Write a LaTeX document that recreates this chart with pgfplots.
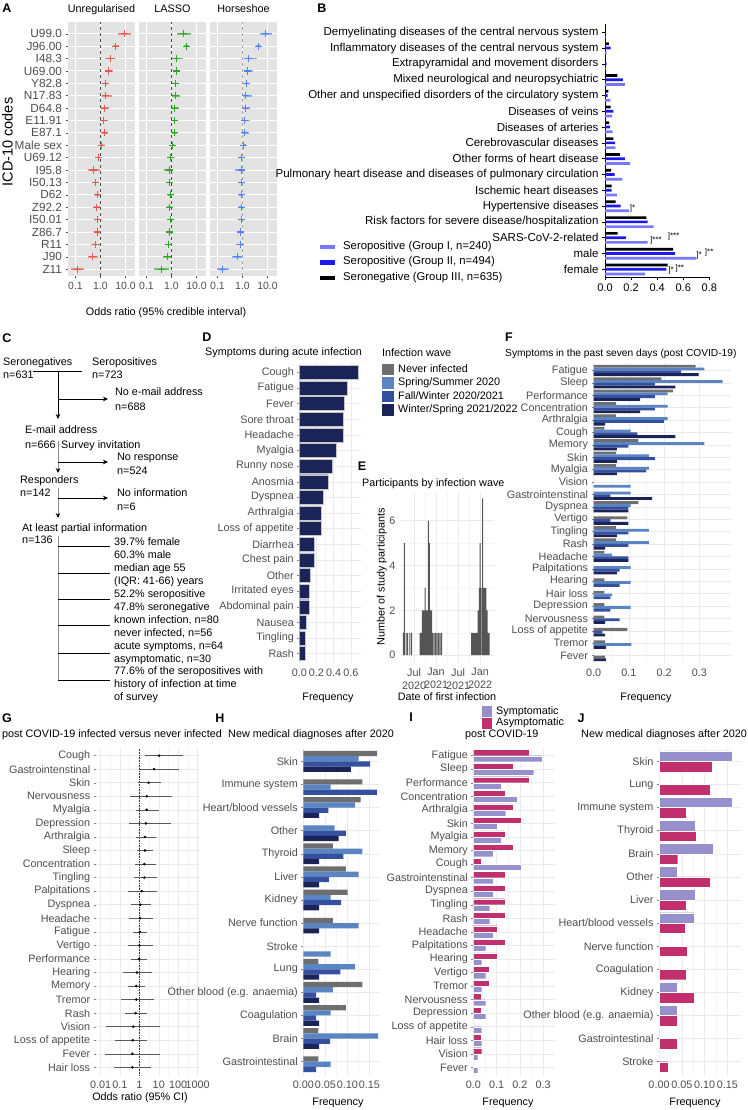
\documentclass[border=0pt]{standalone}
\usepackage{fontspec}
\setmainfont{Liberation Sans}
\usepackage{pgfplots}
\pgfplotsset{compat=1.18}
\usetikzlibrary{arrows.meta}

\definecolor{tickc}{HTML}{4D4D4D}
\definecolor{gridc}{HTML}{EBEBEB}
\definecolor{gridm}{HTML}{F4F4F4}
\definecolor{panelA}{HTML}{E3E3E3}
\definecolor{redA}{HTML}{E5584C}
\definecolor{greenA}{HTML}{2FA52A}
\definecolor{blueA}{HTML}{4F84F2}
\definecolor{grpI}{HTML}{7878F8}
\definecolor{grpII}{HTML}{1A1AF0}
\definecolor{wNever}{HTML}{6E6E6E}
\definecolor{wSpring}{HTML}{5A84C2}
\definecolor{wFall}{HTML}{34509F}
\definecolor{wWinter}{HTML}{1B2457}
\definecolor{symp}{HTML}{9691CC}
\definecolor{asym}{HTML}{C12F6D}
\definecolor{histc}{HTML}{555555}
\definecolor{flowg}{HTML}{8A8A8A}

\newcommand{\fs}{\fontsize{10.8}{12.9}\selectfont}
\newcommand{\fsA}{\fontsize{11.8}{14}\selectfont}
\newcommand{\fsT}{\fontsize{10.5}{12.6}\selectfont}
\newcommand{\fsF}{\fontsize{10.2}{12.2}\selectfont}
\newcommand{\fsB}{\fontsize{11.5}{13.8}\selectfont}
\newcommand{\fsBt}{\fontsize{11}{13}\selectfont}
\newcommand{\fsBl}{\fontsize{11.3}{13.5}\selectfont}
\newcommand{\fsS}{\fontsize{8}{9.5}\selectfont}
\newcommand{\fl}{\fontsize{12.5}{15}\selectfont\bfseries}

\pgfplotsset{
  /pgf/number format/assume math mode=true,
  facetA/.style={scale only axis, anchor=north west, width=67pt, height=254pt,
    xmin=-1.3, xmax=1.38, ymin=-20.55, ymax=-0.05,
    axis background/.style={fill=panelA},
    axis line style={draw=none},
    xtick={-1,0,1}, xticklabels={0.1,1.0,10.0},
    ytick={-1,-2,...,-20},
    grid=major, major grid style={draw=white, line width=0.9pt},
    tick pos=left, tick align=outside, major tick length=2.5pt,
    tick style={draw=tickc, line width=0.5pt},
    xticklabel style={font=\fsT, text=tickc},
    yticklabel style={font=\fsA, text=tickc},
  },
  gm/.style={scale only axis, anchor=north west,
    axis line style={draw=none},
    tick pos=left, tick align=outside, major tick length=2pt,
    xtick style={draw=none}, ytick style={draw=tickc!70, line width=0.4pt},
    minor tick style={draw=none},
    xmajorgrids, xminorgrids, ymajorgrids,
    major grid style={draw=gridc, line width=0.5pt},
    minor grid style={draw=gridm, line width=0.4pt},
    ticklabel style={font=\fs, text=tickc},
    ymax=-0.4,
  },
  fplot/.style={only marks, mark=+, mark size=3.6pt, color=#1, mark options={draw=#1, line width=1.2pt},
    error bars/.cd, x dir=both, x explicit, error mark=none,
    error bar style={draw=#1!70, line width=1.6pt}},
}

\begin{document}
\begin{tikzpicture}
\useasboundingbox (0pt,0pt) rectangle (747pt,-1110pt);

%================ A ==================
\begin{axis}[facetA, at={(68pt,-22pt)},
  yticklabels={U99.0,J96.00,I48.3,U69.00,Y82.8,N17.83,D64.8,E11.91,E87.1,Male sex,U69.12,I95.8,I50.13,D62,Z92.2,I50.01,Z86.7,R11,J90,Z11}]
\addplot[dashed, draw=black!70, line width=0.5pt] coordinates {(0,-20.55) (0,-0.05)};
\addplot[fplot=redA]
  table[x=c, y expr=-\coordindex-1, x error minus=em, x error plus=ep] {
c em ep
0.97 0.27 0.23
0.61 0.10 0.11
0.40 0.23 0.21
0.32 0.15 0.19
0.21 0.12 0.13
0.21 0.17 0.23
0.17 0.15 0.17
0.13 0.12 0.15
0.17 0.12 0.13
0.03 0.05 0.05
-0.08 0.12 0.12
-0.27 0.23 0.24
-0.19 0.15 0.13
-0.13 0.11 0.11
-0.16 0.11 0.12
-0.12 0.13 0.16
-0.13 0.09 0.09
-0.20 0.19 0.16
-0.32 0.20 0.21
-0.93 0.25 0.27
};
\end{axis}

\begin{axis}[facetA, at={(139pt,-22pt)}, yticklabels={}, ytick style={draw=none}]
\addplot[dashed, draw=black!70, line width=0.5pt] coordinates {(0,-20.55) (0,-0.05)};
\addplot[fplot=greenA]
  table[x=c, y expr=-\coordindex-1, x error minus=em, x error plus=ep] {
c em ep
0.48 0.27 0.29
0.59 0.11 0.11
0.19 0.17 0.27
0.21 0.13 0.13
0.16 0.11 0.12
0.16 0.13 0.16
0.13 0.11 0.15
0.12 0.09 0.12
0.11 0.09 0.11
0.05 0.05 0.05
-0.04 0.07 0.07
-0.08 0.21 0.12
-0.07 0.12 0.09
-0.05 0.09 0.08
-0.08 0.09 0.09
-0.05 0.13 0.09
-0.08 0.09 0.08
-0.11 0.16 0.12
-0.16 0.19 0.13
-0.40 0.29 0.29
};
\end{axis}

\begin{axis}[facetA, at={(210pt,-22pt)}, yticklabels={}, ytick style={draw=none}]
\addplot[dashed, draw=black!35, line width=1.3pt] coordinates {(0,-20.55) (0,-0.05)};
\addplot[fplot=blueA]
  table[x=c, y expr=-\coordindex-1, x error minus=em, x error plus=ep] {
c em ep
0.91 0.23 0.27
0.64 0.10 0.10
0.24 0.20 0.33
0.20 0.13 0.21
0.17 0.11 0.13
0.11 0.09 0.27
0.11 0.09 0.20
0.07 0.08 0.21
0.07 0.08 0.17
0.05 0.05 0.07
-0.05 0.07 0.08
-0.03 0.27 0.07
-0.03 0.16 0.05
-0.03 0.11 0.05
-0.04 0.11 0.07
-0.05 0.15 0.08
-0.07 0.09 0.08
-0.08 0.19 0.09
-0.19 0.23 0.19
-0.80 0.23 0.24
};
\end{axis}

%================ B ==================
\begin{axis}[scale only axis, anchor=north west, at={(605pt,-24pt)}, width=104.3pt, height=253pt,
  xmin=0, xmax=0.8, ymin=-16.49, ymax=-0.475,
  axis x line*=bottom, axis y line*=left, axis line style={-, line width=0.6pt},
  xtick={0,0.2,0.4,0.6,0.8}, xticklabels={0.0,0.2,0.4,0.6,0.8},
  ytick={-1,-2,...,-16},
  yticklabels={Demyelinating diseases of the central nervous system,Inflammatory diseases of the central nervous system,Extrapyramidal and movement disorders,Mixed neurological and neuropsychiatric,Other and unspecified disorders of the circulatory system,Diseases of veins,Diseases of arteries,Cerebrovascular diseases,Other forms of heart disease,Pulmonary heart disease and diseases of pulmonary circulation,Ischemic heart diseases,Hypertensive diseases,Risk factors for severe disease/hospitalization,SARS-CoV-2-related,male,female},
  tick align=outside, major tick length=3pt, tick style={line width=0.6pt, black},
  yticklabel style={font=\fsB}, xticklabel style={font=\fsBt}, clip=false]
\addplot[xbar, bar width=0.17, bar shift=0pt, fill=black, draw=none]
  table[x=v, y expr=-\coordindex-1+0.27] {
v
0.004
0.030
0.004
0.095
0.026
0.043
0.031
0.064
0.115
0.046
0.051
0.082
0.317
0.097
0.522
0.481
};
\addplot[xbar, bar width=0.17, bar shift=0pt, fill=grpII, draw=none]
  table[x=v, y expr=-\coordindex-1] {
v
0.008
0.043
0.013
0.138
0.020
0.064
0.038
0.077
0.153
0.074
0.051
0.120
0.327
0.161
0.537
0.471
};
\addplot[xbar, bar width=0.17, bar shift=0pt, fill=grpI, draw=none]
  table[x=v, y expr=-\coordindex-1-0.3] {
v
0.004
0.013
0.004
0.153
0.041
0.054
0.059
0.079
0.192
0.133
0.092
0.184
0.373
0.327
0.698
0.307
};
\node[anchor=west, font=\fsS, inner sep=0pt] at (axis cs:0.19,-12.15) {]*};
\node[anchor=west, font=\fsS, inner sep=0pt] at (axis cs:0.345,-14.2) {]***};
\node[anchor=west, font=\fsS, inner sep=0pt] at (axis cs:0.48,-13.95) {]***};
\node[anchor=west, font=\fsS, inner sep=0pt] at (axis cs:0.70,-15.1) {]*};
\node[anchor=west, font=\fsS, inner sep=0pt] at (axis cs:0.765,-14.95) {]**};
\node[anchor=west, font=\fsS, inner sep=0pt] at (axis cs:0.485,-16.1) {]*};
\node[anchor=west, font=\fsS, inner sep=0pt] at (axis cs:0.54,-15.95) {]**};
\end{axis}

%================ D ==================
\begin{axis}[gm, at={(299.3pt,-363pt)}, width=61.9pt, height=300pt,
  xmin=0, xmax=0.72, ymin=-19.6,
  xtick={0,0.2,0.4,0.6}, xticklabels={0.0,0.2,0.4,0.6}, minor x tick num=1,
  ytick={-1,-2,...,-19},
  yticklabels={Cough,Fatigue,Fever,Sore throat,Headache,Myalgia,Runny nose,Anosmia,Dyspnea,Arthralgia,Loss of appetite,Diarrhea,Chest pain,Other,Irritated eyes,Abdominal pain,Nausea,Tingling,Rash}]
\addplot[xbar, bar width=0.9, bar shift=0pt, fill=wWinter, draw=gray!45, line width=0.4pt]
  table[x=v, y expr=-\coordindex-1] {
v
0.680
0.554
0.523
0.508
0.508
0.426
0.380
0.333
0.283
0.252
0.252
0.174
0.174
0.124
0.112
0.112
0.081
0.066
0.066
};
\end{axis}

%================ E ==================
\begin{axis}[gm, at={(401pt,-491.6pt)}, width=93pt, height=171.4pt,
  xmin=2.45, xmax=27.8, ymin=-0.35, ymax=7.3,
  ytick style={draw=none},
  xtick={6,12,18,24}, xticklabels={{Jul\\2020},{Jan\\2021},{Jul\\2021},{Jan\\2022}},
  xticklabel style={align=center, font=\fs, text=tickc},
  ytick={0,2,4,6}, minor x tick num=1, minor y tick num=1, yminorgrids]
\addplot[ybar, bar width=0.27, bar shift=0pt, fill=histc, draw=none] table[x=m, y=h] {
m h
3.08 1
3.35 5
3.82 1
4.28 1
4.90 1
5.37 1
7.64 1
7.95 1
8.25 2
8.55 2
8.85 2
9.00 3
9.30 2
9.60 2
9.90 6
10.17 5
10.50 2
10.80 2
11.10 1
11.50 1
11.90 1
12.30 1
12.70 1
13.10 1
13.55 1
21.70 1
22.00 1
22.30 1
22.60 1
22.90 1
23.20 1
23.50 2
23.80 3
24.00 5
24.30 3
24.70 7
25.00 3
25.30 3
25.60 3
25.90 2
26.20 1
26.50 1
};
\end{axis}

%================ F ==================
\begin{axis}[gm, at={(593.5pt,-363pt)}, width=137.7pt, height=300pt,
  xmin=0, xmax=0.39, ymin=-24.6,
  xtick={0,0.1,0.2,0.3}, xticklabels={0.0,0.1,0.2,0.3}, minor x tick num=1,
  ytick={-1,-2,...,-24},
  yticklabels={Fatigue,Sleep,Performance,Concentration,Arthralgia,Cough,Memory,Skin,Myalgia,Vision,Gastrointenstinal,Dyspnea,Vertigo,Tingling,Rash,Headache,Palpitations,Hearing,Hair loss,Depression,Nervousness,Loss of appetite,Tremor,Fever}]
\addplot[xbar, bar width=0.225, bar shift=0pt, fill=wNever, draw=none]
  table[x=v, y expr=-\thisrow{k}-(\thisrow{s}-2.5)*0.225] {
k s v
1 1 0.289
2 1 0.192
3 1 0.225
4 1 0.064
5 1 0.064
6 1 0.031
7 1 0.127
8 1 0.064
9 1 0.064
12 1 0.127
13 2 0.096
14 1 0.064
15 1 0.064
16 1 0.031
18 2 0.031
19 2 0.031
20 2 0.031
21 2 0.031
22 2 0.096
23 2 0.033
24 3 0.033
};
\addplot[xbar, bar width=0.225, bar shift=0pt, fill=wSpring, draw=none]
  table[x=v, y expr=-\thisrow{k}-(\thisrow{s}-2.5)*0.225] {
k s v
1 2 0.314
2 2 0.366
3 2 0.210
4 2 0.210
5 2 0.210
6 2 0.105
7 2 0.314
8 2 0.157
9 2 0.157
10 4 0.105
11 2 0.105
12 2 0.105
14 2 0.157
15 2 0.157
16 2 0.053
17 2 0.105
18 3 0.105
19 3 0.053
20 3 0.105
23 3 0.107
};
\addplot[xbar, bar width=0.225, bar shift=0pt, fill=wFall, draw=none]
  table[x=v, y expr=-\thisrow{k}-(\thisrow{s}-2.5)*0.225] {
k s v
1 3 0.248
2 3 0.174
3 3 0.174
4 3 0.174
5 3 0.199
6 3 0.124
7 3 0.099
8 3 0.174
9 3 0.149
11 3 0.048
12 3 0.099
13 3 0.048
14 3 0.099
15 3 0.099
16 3 0.099
17 3 0.074
18 4 0.074
19 4 0.048
20 4 0.048
21 3 0.074
22 3 0.025
};
\addplot[xbar, bar width=0.225, bar shift=0pt, fill=wWinter, draw=none]
  table[x=v, y expr=-\thisrow{k}-(\thisrow{s}-2.5)*0.225] {
k s v
1 4 0.298
2 4 0.232
3 4 0.132
4 4 0.132
5 4 0.033
6 4 0.232
7 4 0.066
8 4 0.066
9 4 0.066
11 4 0.166
12 4 0.099
13 4 0.099
14 4 0.066
15 4 0.033
16 4 0.099
17 4 0.066
21 4 0.033
22 4 0.033
23 4 0.035
24 4 0.035
};
\end{axis}

%================ G ==================
\begin{axis}[gm, at={(95.7pt,-747.5pt)}, width=103.8pt, height=328pt,
  xmin=-2.25, xmax=3.1, ymin=-24.6,
  xtick={-2,-1,0,1,2,3}, xticklabels={0.01,0.1,1,10,100,1000}, minor x tick num=1,
  ytick={-1,-2,...,-24},
  yticklabels={Cough,Gastrointenstinal,Skin,Nervousness,Myalgia,Depression,Arthralgia,Sleep,Concentration,Tingling,Palpitations,Dyspnea,Headache,Fatigue,Vertigo,Performance,Hearing,Memory,Tremor,Rash,Vision,Loss of appetite,Fever,Hair loss}]
\addplot[densely dotted, draw=black!80, line width=0.6pt] coordinates {(0,-24.6) (0,-0.4)};
\addplot[only marks, mark=*, mark size=1.1pt, black,
  error bars/.cd, x dir=both, x explicit, error mark=none,
  error bar style={draw=black!65, line width=0.5pt}]
  table[x=c, y expr=-\coordindex-1, x error minus=em, x error plus=ep] {
c em ep
1.02 0.73 1.22
0.76 0.73 1.26
0.47 0.52 0.63
0.38 0.86 1.29
0.38 0.55 0.65
0.34 0.86 1.28
0.29 0.46 0.57
0.29 0.39 0.43
0.26 0.48 0.58
0.26 0.54 0.67
0.12 0.69 0.81
0.05 0.48 0.55
0.03 0.58 0.69
0.03 0.36 0.35
0.00 0.60 0.69
-0.02 0.39 0.42
-0.12 0.74 0.79
-0.16 0.41 0.47
-0.16 0.81 0.92
-0.19 0.55 0.57
-0.31 1.41 1.38
-0.34 0.90 0.75
-0.36 1.43 1.43
-0.36 0.95 0.95
};
\end{axis}

%================ H ==================
\begin{axis}[gm, at={(303.3pt,-747.5pt)}, width=77pt, height=328pt,
  xmin=0, xmax=0.175, ymin=-14.6,
  xtick={0,0.05,0.1,0.15}, xticklabels={0.00,0.05,0.10,0.15}, minor x tick num=1,
  ytick={-1,-2,...,-14},
  yticklabels={Skin,Immune system,Heart/blood vessels,Other,Thyroid,Liver,Kidney,Nerve function,Stroke,Lung,Other blood (e.g. anaemia),Coagulation,Brain,Gastrointestinal}]
\addplot[xbar, bar width=0.225, bar shift=0pt, fill=wNever, draw=none]
  table[x=v, y expr=-\thisrow{k}-(\thisrow{s}-2.5)*0.225] {
k s v
1 1 0.168
2 2 0.134
3 1 0.130
5 1 0.067
6 1 0.097
7 1 0.101
8 2 0.067
10 1 0.034
11 1 0.134
12 1 0.097
13 1 0.034
14 2 0.034
};
\addplot[xbar, bar width=0.225, bar shift=0pt, fill=wSpring, draw=none]
  table[x=v, y expr=-\thisrow{k}-(\thisrow{s}-2.5)*0.225] {
k s v
1 2 0.126
2 3 0.062
3 2 0.118
4 2 0.071
5 2 0.134
6 2 0.126
7 2 0.062
8 3 0.126
9 4 0.062
10 2 0.118
11 2 0.067
12 2 0.062
13 2 0.170
14 3 0.062
};
\addplot[xbar, bar width=0.225, bar shift=0pt, fill=wFall, draw=none]
  table[x=v, y expr=-\thisrow{k}-(\thisrow{s}-2.5)*0.225] {
k s v
1 3 0.152
2 4 0.167
3 3 0.057
4 3 0.097
5 3 0.091
6 3 0.058
7 3 0.086
10 3 0.084
11 3 0.029
12 3 0.029
13 3 0.061
14 4 0.029
};
\addplot[xbar, bar width=0.225, bar shift=0pt, fill=wWinter, draw=none]
  table[x=v, y expr=-\thisrow{k}-(\thisrow{s}-2.5)*0.225] {
k s v
1 4 0.108
3 4 0.036
4 4 0.080
5 4 0.036
6 4 0.036
7 4 0.036
8 4 0.036
10 4 0.036
11 4 0.036
12 4 0.036
13 4 0.036
};
\end{axis}

%================ I ==================
\begin{axis}[gm, at={(473.3pt,-747.5pt)}, width=81.6pt, height=328pt,
  xmin=0, xmax=0.35, ymin=-24.6,
  xtick={0,0.1,0.2,0.3}, xticklabels={0.0,0.1,0.2,0.3}, minor x tick num=1,
  ytick={-1,-2,...,-24},
  yticklabels={Fatigue,Sleep,Performance,Concentration,Arthralgia,Skin,Myalgia,Memory,Cough,Gastrointenstinal,Dyspnea,Tingling,Rash,Headache,Palpitations,Hearing,Vertigo,Tremor,Nervousness,Depression,Loss of appetite,Hair loss,Vision,Fever}]
\addplot[xbar, bar width=0.45, bar shift=0pt, fill=asym, draw=white, line width=0.2pt]
  table[x=v, y expr=-\thisrow{k}+0.225] {
k v
1 0.239
2 0.171
3 0.239
4 0.136
5 0.171
6 0.204
7 0.136
8 0.171
9 0.034
10 0.136
11 0.136
12 0.136
13 0.136
14 0.103
15 0.136
16 0.103
17 0.069
18 0.069
19 0.034
20 0.034
22 0.034
23 0.036
};
\addplot[xbar, bar width=0.45, bar shift=0pt, fill=symp, draw=white, line width=0.2pt]
  table[x=v, y expr=-\thisrow{k}-0.225] {
k v
1 0.294
2 0.259
3 0.121
4 0.189
5 0.139
6 0.104
7 0.121
8 0.087
9 0.207
10 0.087
11 0.087
12 0.070
13 0.070
14 0.087
15 0.053
16 0.036
17 0.053
18 0.036
19 0.053
20 0.053
21 0.036
22 0.036
23 0.019
24 0.019
};
\end{axis}

%================ J ==================
\begin{axis}[gm, at={(659pt,-747.5pt)}, width=82.1pt, height=328pt,
  xmin=0, xmax=0.18, ymin=-14.6,
  xtick={0,0.05,0.1,0.15}, xticklabels={0.00,0.05,0.10,0.15}, minor x tick num=1,
  ytick={-1,-2,...,-14},
  yticklabels={Skin,Lung,Immune system,Thyroid,Brain,Other,Liver,Heart/blood vessels,Nerve function,Coagulation,Kidney,Other blood (e.g. anaemia),Gastrointestinal,Stroke}]
\addplot[xbar, bar width=0.45, bar shift=0pt, fill=symp, draw=white, line width=0.2pt]
  table[x=v, y expr=-\thisrow{k}+0.225] {
k v
1 0.160
3 0.160
4 0.080
5 0.119
6 0.040
7 0.080
8 0.077
11 0.039
12 0.040
};
\addplot[xbar, bar width=0.45, bar shift=0pt, fill=asym, draw=white, line width=0.2pt]
  table[x=v, y expr=-\thisrow{k}-0.225] {
k v
1 0.117
2 0.113
3 0.059
4 0.081
5 0.041
6 0.113
7 0.059
8 0.058
9 0.061
10 0.059
11 0.078
12 0.040
13 0.040
14 0.020
};
\end{axis}

%================ text, legends, flowchart ==================
\begin{scope}[x=1pt,y=-1pt]
\tikzset{ft/.style={anchor=mid west, inner sep=0pt, font=\fs},
         fc/.style={anchor=mid, inner sep=0pt, font=\fs},
         arr/.style={-{Stealth[length=5pt,width=4.5pt,color=black]}}}
% panel letters
\node[font=\fl] at (7,8) {A};
\node[font=\fl] at (322,8) {B};
\node[font=\fl] at (7,338) {C};
\node[font=\fl] at (207,337) {D};
\node[font=\fl] at (362,466) {E};
\node[font=\fl] at (509,337) {F};
\node[font=\fl] at (7,718) {G};
\node[font=\fl] at (220,718) {H};
\node[font=\fl] at (411,717) {I};
\node[font=\fl] at (581,718) {J};
% A texts
\node[fc] at (101.5,10) {Unregularised};
\node[fc] at (172.5,10) {LASSO};
\node[fc] at (243.5,10) {Horseshoe};
\node[fc] at (166,313) {Odds ratio (95\% credible interval)};
\node[anchor=mid, inner sep=0pt, font=\fontsize{14.5}{16}\selectfont, rotate=90] at (10,142) {ICD-10 codes};
% B legend
\fill[grpI] (320,244.5) rectangle (335,249);
\fill[grpII] (320,260) rectangle (335,264.5);
\fill[black] (320,275.7) rectangle (335,280.2);
\node[anchor=mid west, inner sep=0pt, font=\fsBl] at (343,246.7) {Seropositive (Group I, n=240)};
\node[anchor=mid west, inner sep=0pt, font=\fsBl] at (343,262.3) {Seropositive (Group II, n=494)};
\node[anchor=mid west, inner sep=0pt, font=\fsBl] at (343,278) {Seronegative (Group III, n=635)};
% C flowchart
\node[ft] at (3,363) {Seronegatives};
\node[ft] at (3,375.5) {n=631};
\node[ft] at (92,363) {Seropositives};
\node[ft] at (92,375.5) {n=723};
\draw[line width=0.5pt] (33,371) -- (82,371);
\draw[line width=0.6pt, arr] (58,371) -- (58,419);
\draw[line width=0.6pt, arr] (58,399) -- (108,399);
\node[ft] at (115,393) {No e-mail address};
\node[ft] at (115,408) {n=688};
\node[ft] at (25,431) {E-mail address};
\node[ft] at (25,445.7) {n=666};
\node[ft] at (61,445.7) {Survey invitation};
\draw[flowg, line width=1pt, arr] (58,441) -- (58,473);
\draw[line width=0.6pt, arr] (58,462) -- (108,462);
\node[ft] at (117,458.3) {No response};
\node[ft] at (117,472.3) {n=524};
\node[ft] at (20,481) {Responders};
\node[ft] at (20,494.3) {n=142};
\draw[flowg, line width=1pt, arr] (58,488) -- (58,518);
\draw[line width=0.6pt, arr] (58,498) -- (108,498);
\node[ft] at (117,494.3) {No information};
\node[ft] at (117,508.3) {n=6};
\node[ft] at (22,528.7) {At least partial information};
\node[ft] at (22,540.7) {n=136};
\draw[flowg, line width=1pt] (58,536) -- (58,680.5);
\foreach \yy in {546.7,573.3,599.3,625,653.3,680} {\draw[line width=0.5pt] (58,\yy) -- (110,\yy);}
\foreach \t [count=\i from 0] in {39.7\% female,60.3\% male,median age 55,(IQR: 41-66) years,52.2\% seropositive,47.8\% seronegative,{known infection, n=80},{never infected, n=56},{acute symptoms, n=64},{asymptomatic, n=30},77.6\% of the seropositives with,history of infection at time,of survey}
  {\node[ft] at (114,543.3+12.9*\i) {\t};}
% D / E / F texts
\node[ft] at (205,353) {Symptoms during acute infection};
\node[fc] at (328,698) {Frequency};
\node[ft] at (382,354.3) {Infection wave};
\fill[wNever] (382,363.5) rectangle (394,375.3);
\fill[wSpring] (382,377) rectangle (394,388.8);
\fill[wFall] (382,390.5) rectangle (394,402.3);
\fill[wWinter] (382,404) rectangle (394,415.8);
\node[ft] at (398,369.4) {Never infected};
\node[ft] at (398,382.9) {Spring/Summer 2020};
\node[ft] at (398,396.4) {Fall/Winter 2020/2021};
\node[ft] at (398,409.9) {Winter/Spring 2021/2022};
\node[ft] at (362,484.3) {Participants by infection wave};
\node[anchor=mid, inner sep=0pt, font=\fs, rotate=90] at (382,577) {Number of study participants};
\node[fc] at (447,698) {Date of first infection};
\node[anchor=mid west, inner sep=0pt, font=\fsF] at (505,354) {Symptoms in the past seven days (post COVID-19)};
\node[fc] at (646,698) {Frequency};
% G / H / I / J texts
\node[ft] at (2,735) {post COVID-19 infected versus never infected};
\node[fc] at (140,1098) {Odds ratio (95\% CI)};
\node[ft] at (228,735) {New medical diagnoses after 2020};
\node[fc] at (338,1103) {Frequency};
\fill[symp] (481.7,706.2) rectangle (492,717.2);
\fill[asym] (481.7,717.8) rectangle (492,728.8);
\node[ft] at (496,711.7) {Symptomatic};
\node[ft] at (496,723.3) {Asymptomatic};
\node[ft] at (465,735) {post COVID-19};
\node[fc] at (508,1103) {Frequency};
\node[ft] at (581,735) {New medical diagnoses after 2020};
\node[fc] at (695,1103) {Frequency};
\end{scope}
\end{tikzpicture}
\end{document}
